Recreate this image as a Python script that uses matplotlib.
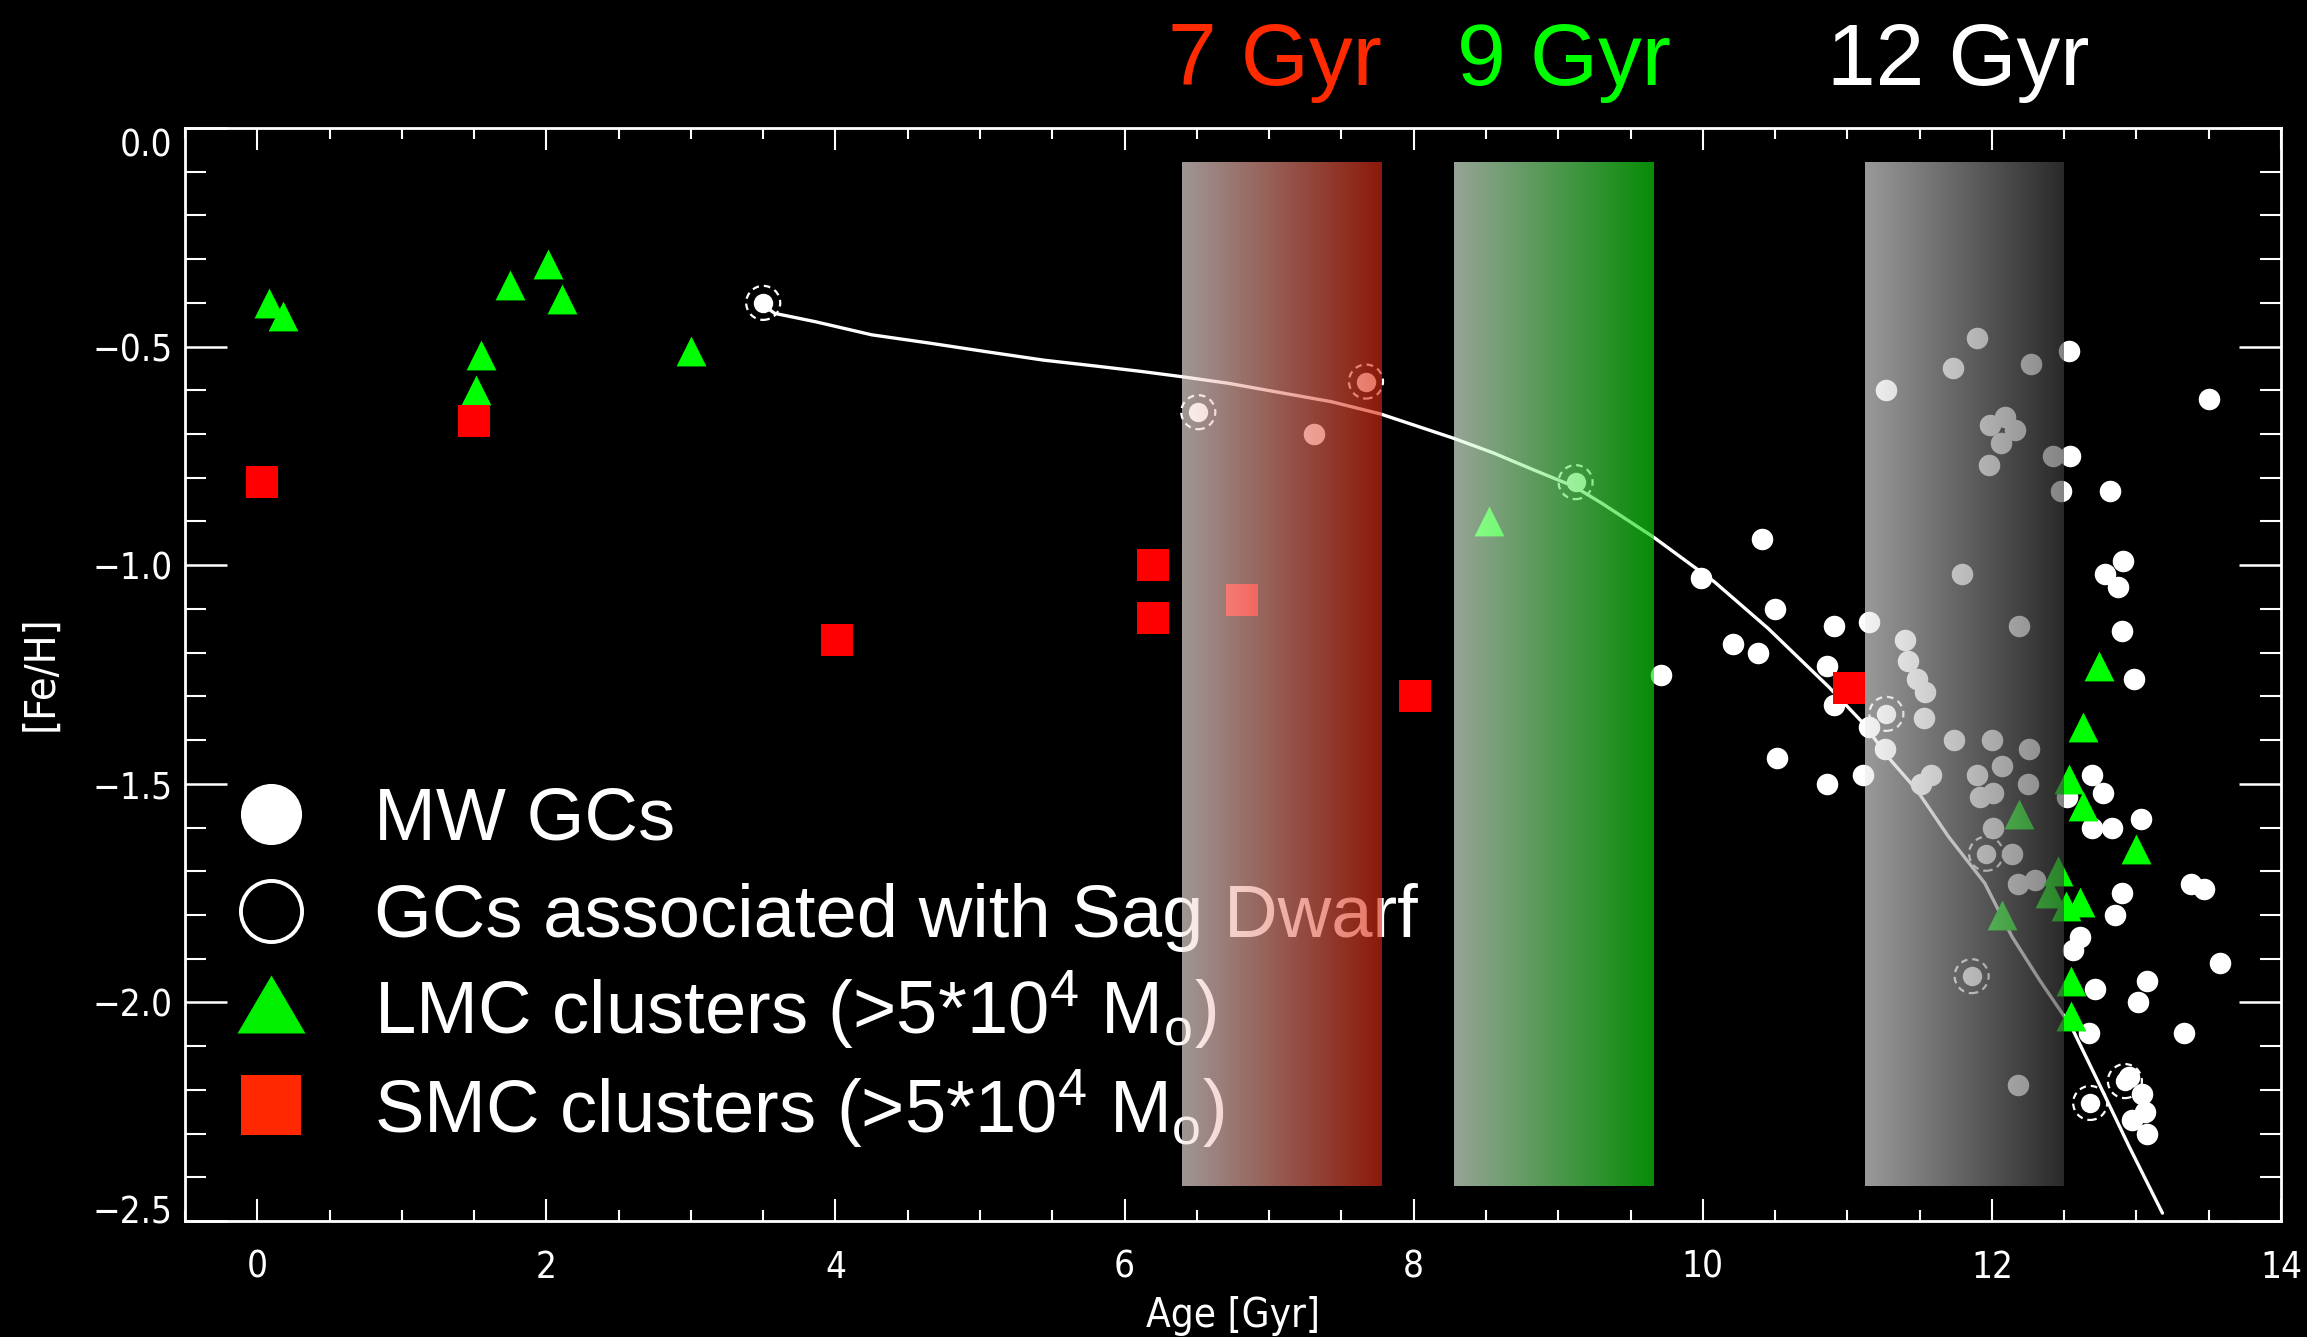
import numpy as np
import matplotlib
matplotlib.use('Agg')
import matplotlib.pyplot as plt
from matplotlib.transforms import ScaledTranslation

# ---------------- data ----------------
mw_age = [7.31, 9.71, 9.99, 10.21, 10.38, 10.41, 10.50, 10.51, 10.86, 10.86,
          10.91, 10.91, 11.11, 11.15, 11.15, 11.26, 11.27, 11.40, 11.42, 11.48,
          11.54, 11.53, 11.74, 12.00, 12.26, 11.58, 11.51, 11.90, 12.07, 11.92,
          12.01, 12.25, 12.01, 12.14, 12.18, 12.30, 12.18, 11.90, 11.73, 12.27,
          12.53, 11.99, 12.09, 12.16, 12.06, 11.98, 12.42, 12.54, 12.48, 12.82,
          13.50, 12.91, 12.78, 12.87, 12.90, 12.98, 11.79, 12.19, 12.69, 12.77,
          12.52, 13.03, 12.69, 12.83, 12.90, 12.85, 13.38, 13.47, 12.61, 12.56,
          13.58, 12.71, 13.07, 13.01, 12.67, 13.33, 12.95, 13.04, 13.06, 12.97,
          13.07]
mw_feh = [-0.70, -1.25, -1.03, -1.18, -1.20, -0.94, -1.10, -1.44, -1.23, -1.50,
          -1.14, -1.32, -1.48, -1.37, -1.13, -1.42, -0.60, -1.17, -1.22, -1.26,
          -1.29, -1.35, -1.40, -1.40, -1.42, -1.48, -1.50, -1.48, -1.46, -1.53,
          -1.52, -1.50, -1.60, -1.66, -1.73, -1.72, -2.19, -0.48, -0.55, -0.54,
          -0.51, -0.68, -0.66, -0.69, -0.72, -0.77, -0.75, -0.75, -0.83, -0.83,
          -0.62, -0.99, -1.02, -1.05, -1.15, -1.26, -1.02, -1.14, -1.48, -1.52,
          -1.53, -1.58, -1.60, -1.60, -1.75, -1.80, -1.73, -1.74, -1.85, -1.88,
          -1.91, -1.97, -1.95, -2.00, -2.07, -2.07, -2.17, -2.21, -2.25, -2.27,
          -2.30]

sag_age = [3.50, 6.51, 7.67, 9.12, 11.27, 11.96, 11.86, 12.68, 12.92]
sag_feh = [-0.40, -0.65, -0.58, -0.81, -1.34, -1.66, -1.94, -2.23, -2.18]

lmc_age = [0.08, 0.18, 1.75, 2.01, 2.11, 1.55, 1.51, 3.00, 8.52,
           12.74, 12.63, 12.53, 12.63, 12.19, 13.00, 12.46, 12.40, 12.61,
           12.51, 12.07, 12.55, 12.55]
lmc_feh = [-0.40, -0.43, -0.36, -0.31, -0.39, -0.52, -0.60, -0.51, -0.90,
           -1.23, -1.37, -1.49, -1.55, -1.57, -1.65, -1.70, -1.75, -1.77,
           -1.78, -1.80, -1.95, -2.03]

smc_age = [0.03, 1.50, 4.01, 6.20, 6.20, 6.81, 8.01, 11.01]
smc_feh = [-0.81, -0.67, -1.17, -1.00, -1.12, -1.08, -1.30, -1.28]

amr_age = [3.52, 3.58, 3.86, 4.25, 4.65, 5.05, 5.44, 5.84, 6.12, 6.40, 6.72,
           7.04, 7.43, 7.77, 8.27, 8.55, 8.83, 9.11, 9.30, 9.66, 10.08, 10.45,
           10.87, 11.10, 11.30, 11.48, 11.70, 11.95, 12.14, 12.33, 12.55,
           12.74, 12.95, 13.18]
amr_feh = [-0.41, -0.424, -0.443, -0.473, -0.492, -0.512, -0.531, -0.546,
           -0.557, -0.569, -0.584, -0.603, -0.626, -0.654, -0.709, -0.743,
           -0.782, -0.82, -0.858, -0.936, -1.038, -1.144, -1.278, -1.358,
           -1.446, -1.514, -1.621, -1.727, -1.85, -1.949, -2.056, -2.185,
           -2.33, -2.482]

band_ranges = [(6.40, 7.78), (8.28, 9.66), (11.12, 12.49)]
band_yrange = (-2.42, -0.08)
band_labels = ['7 Gyr', '9 Gyr', '12 Gyr']

xtick_vals = [0, 2, 4, 6, 8, 10, 12, 14]
xtick_labels = ['0', '2', '4', '6', '8', '10', '12', '14']
ytick_vals = [-2.5, -2.0, -1.5, -1.0, -0.5, 0.0]
ytick_labels = ['\u22122.5', '\u22122.0', '\u22121.5', '\u22121.0', '\u22120.5', '0.0']

legend_labels = ['MW GCs',
                 'GCs associated with Sag Dwarf',
                 'LMC clusters (>5*10$^{\\mathrm{4}}$ M$_{\\mathrm{o}}$)',
                 'SMC clusters (>5*10$^{\\mathrm{4}}$ M$_{\\mathrm{o}}$)']

# ---------------- figure ----------------
plt.rcParams['mathtext.fontset'] = 'custom'
plt.rcParams['mathtext.rm'] = 'Liberation Sans'
plt.rcParams['mathtext.it'] = 'Liberation Sans:italic'

W, H = 2307, 1337
fig = plt.figure(figsize=(W / 100, H / 100), dpi=100, facecolor='black')
L, R, T, B = 185, 2281, 128, 1221
ax = fig.add_axes([L / W, 1 - B / H, (R - L) / W, (B - T) / H])
ax.set_facecolor('black')


def fx(px):
    return px / W


def fy(py):
    return 1 - py / H


# curve
ax.plot(amr_age, amr_feh, color='white', lw=2.4, zorder=2,
        solid_capstyle='round', solid_joinstyle='round')

# points
ax.scatter(mw_age, mw_feh, s=15.5 ** 2, c='white', linewidths=0, zorder=3)
ax.scatter(sag_age, sag_feh, s=14 ** 2, c='white', linewidths=0, zorder=3)
ax.scatter(sag_age, sag_feh, s=24.5 ** 2, facecolors='none', edgecolors='white',
           linewidths=1.6, linestyles=(0, (3.0, 2.2)), zorder=4)
ax.scatter(lmc_age, lmc_feh, s=21.5 ** 2, marker='^', c='#00ff00', linewidths=0, zorder=3)
ax.scatter(smc_age, smc_feh, s=23 ** 2, marker='s', c='#ff0000', linewidths=0, zorder=4)

# legend (drawn under the bands)
lx_m, lx_t = 271, 374
marker_y = [814, 911, 1004, 1105]
base_y = [840, 937, 1034, 1133]
ax.plot([fx(lx_m)], [fy(marker_y[0])], 'o', ms=44, mfc='white', mec='white', mew=0,
        transform=fig.transFigure, clip_on=False, zorder=1)
ax.plot([fx(lx_m)], [fy(marker_y[1])], 'o', ms=44, mfc='none', mec='white', mew=2.8,
        transform=fig.transFigure, clip_on=False, zorder=1)
ax.plot([fx(lx_m)], [fy(marker_y[2])], marker=[(-1, -0.853), (1, -0.853), (0, 0.853)],
        ms=49, mfc='#00f000', mec='none', mew=0, ls='none',
        transform=fig.transFigure, clip_on=False, zorder=1)
ax.plot([fx(lx_m)], [fy(marker_y[3])], 's', ms=43, mfc='#ff2800', mec='none', mew=0,
        transform=fig.transFigure, clip_on=False, zorder=1)
for lab, by in zip(legend_labels, base_y):
    ax.text(fx(lx_t), fy(by), lab, transform=fig.transFigure, color='white',
            fontsize=53.5, family='Liberation Sans', ha='left', va='baseline',
            zorder=1, clip_on=False)

# gradient bands on top (semi-transparent)
band_left = [(246, 234, 231), (234, 254, 234), (238, 238, 238)]
band_right = [(218, 40, 15), (12, 218, 12), (65, 65, 65)]
t = np.linspace(0, 1, 256)[:, None]
for (x0, x1), cl, cr in zip(band_ranges, band_left, band_right):
    rgba = np.zeros((1, 256, 4))
    rgba[0, :, :3] = ((1 - t) * np.array(cl) + t * np.array(cr)) / 255.0
    rgba[0, :, 3] = 0.65
    ax.imshow(rgba, extent=[x0, x1, band_yrange[0], band_yrange[1]], aspect='auto',
              interpolation='bilinear', zorder=5)

# band labels above the plot
label_x = [1275, 1564, 1958]
label_c = ['#ff2a00', '#00ff00', 'white']
for lab, px, col in zip(band_labels, label_x, label_c):
    fig.text(fx(px), fy(85), lab, color=col, fontsize=63, family='Liberation Sans',
             ha='center', va='baseline')

# axes styling
ax.set_xlim(-0.5, 14.0)
ax.set_ylim(-2.5, 0.0)
for sp in ax.spines.values():
    sp.set_color('white')
    sp.set_linewidth(2.0)
    sp.set_zorder(6)

ax.set_xticks(xtick_vals)
ax.set_xticklabels(xtick_labels)
ax.set_xticks(np.arange(-0.5, 14.01, 0.5), minor=True)
ax.set_yticks(ytick_vals)
ax.set_yticklabels(ytick_labels)
ax.set_yticks(np.arange(-2.5, 0.001, 0.1), minor=True)

ax.tick_params(axis='x', which='major', direction='in', length=16, width=1.5,
               colors='white', top=True, bottom=True, pad=20)
ax.tick_params(axis='x', which='minor', direction='in', length=8, width=1.5,
               colors='white', top=True, bottom=True)
ax.tick_params(axis='y', which='major', direction='in', length=30, width=1.8,
               colors='white', left=True, right=True, pad=9)
ax.tick_params(axis='y', which='minor', direction='in', length=15, width=1.5,
               colors='white', left=True, right=True)
for lab in ax.get_xticklabels() + ax.get_yticklabels():
    lab.set_fontfamily('DejaVu Sans')
    lab.set_fontstretch('condensed')
    lab.set_fontsize(26.5)

yt = ax.yaxis.get_major_ticks()
yt[-1].label1.set_transform(yt[-1].label1.get_transform() +
                            ScaledTranslation(0, -0.14, fig.dpi_scale_trans))
yt[0].label1.set_transform(yt[0].label1.get_transform() +
                           ScaledTranslation(0, 0.12, fig.dpi_scale_trans))

fig.text(fx(1233), fy(1316), 'Age [Gyr]', color='white', ha='center', va='center',
         family='DejaVu Sans', stretch='condensed', fontsize=29)
fig.text(fx(40), fy(673), '[Fe/H]', color='white', ha='center', va='center',
         rotation=90, family='DejaVu Sans', stretch='condensed', fontsize=31)

fig.savefig('out.png', dpi=100, facecolor='black')
